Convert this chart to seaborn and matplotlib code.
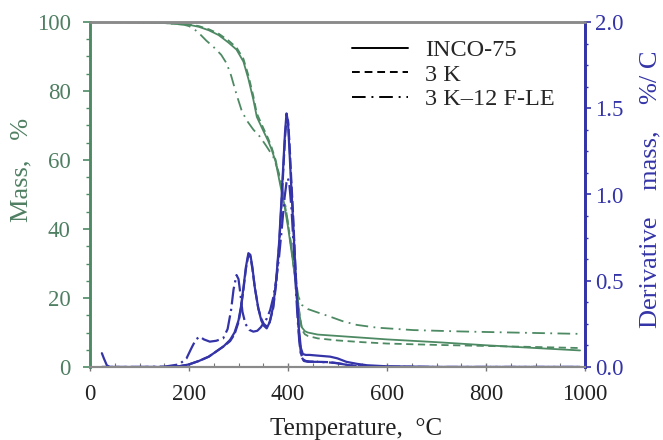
import matplotlib
matplotlib.use("Agg")
import matplotlib.pyplot as plt
from matplotlib.lines import Line2D
from matplotlib.ticker import MultipleLocator
import seaborn as sns
import pandas as pd

# ---------------- data ----------------
series_names = ["INCO-75", "3 K", "3 K\u201312 F-LE"]

# Mass (TG) curves
t_mass_inco = [25, 100, 150, 200, 220, 240, 260, 280, 296, 310, 320, 330, 337, 350, 360, 367, 375, 384,
               392, 400, 410, 418, 424, 428, 434, 440, 460, 500, 550, 600, 700, 800, 900, 990]
m_mass_inco = [100, 99.9, 99.7, 99.2, 98.6, 97.6, 96.2, 94.0, 92.0, 88.5, 83.5, 77.5, 72.5, 68.5, 65.5, 63.0,
               59.5, 53.0, 47.5, 40.6, 30.5, 21.4, 14.5, 11.5, 10.4, 10.0, 9.4, 9.0, 8.5, 8.0, 7.2, 6.3, 5.5, 4.8]

t_mass_3k = [25, 100, 150, 200, 220, 240, 260, 280, 296, 310, 320, 330, 337, 350, 360, 367, 375, 384,
             392, 400, 410, 418, 424, 428, 434, 440, 460, 500, 550, 600, 700, 800, 900, 990]
m_mass_3k = [100, 99.9, 99.7, 99.3, 98.8, 97.9, 96.6, 94.6, 92.6, 89.3, 84.5, 78.5, 73.5, 69.3, 66.2, 63.6,
             60.0, 54.0, 48.5, 41.5, 31.5, 22.0, 14.5, 10.8, 9.5, 9.0, 8.3, 7.7, 7.2, 6.8, 6.4, 6.1, 5.8, 5.5]

t_mass_fle = [25, 100, 150, 190, 200, 210, 222, 235, 250, 265, 276, 285, 296, 306, 316, 330, 343, 355,
              370, 380, 387, 395, 404, 412, 421, 428, 440, 460, 485, 510, 539, 580, 653, 750, 850, 990]
m_mass_fle = [100, 99.9, 99.7, 99.2, 98.8, 98.0, 96.5, 94.6, 92.7, 90.5, 88.0, 84.5, 79.0, 74.5, 71.6, 68.8,
              66.8, 64.3, 61.0, 57.0, 53.0, 46.5, 37.8, 28.5, 20.4, 18.0, 16.8, 15.8, 14.6, 13.3, 12.2, 11.4,
              10.7, 10.3, 10.0, 9.6]

# Derivative (DTG) curves
t_dtg_inco = [24, 28, 34, 40, 100, 150, 180, 200, 220, 240, 260, 270, 283, 292, 300, 305, 310, 315, 320,
              324, 328, 333, 340, 346, 351, 357, 363, 370, 376, 382, 387, 391, 394, 397, 400, 403, 406,
              410, 414, 418, 422, 426, 430, 436, 444, 460, 485, 500, 518, 540, 560, 600, 700, 800, 900, 990]
d_dtg_inco = [0.08, 0.05, 0.01, 0.0, 0.0, 0.0, 0.004, 0.015, 0.035, 0.06, 0.1, 0.12, 0.157, 0.2, 0.27, 0.35,
              0.46, 0.58, 0.66, 0.65, 0.58, 0.46, 0.34, 0.27, 0.24, 0.224, 0.26, 0.35, 0.5, 0.72, 0.98, 1.2,
              1.36, 1.47, 1.42, 1.25, 1.08, 0.86, 0.62, 0.4, 0.22, 0.11, 0.075, 0.07, 0.07, 0.066, 0.06, 0.05,
              0.03, 0.018, 0.01, 0.004, 0.0, 0.0, 0.0, 0.0]

t_dtg_3k = [24, 40, 100, 150, 180, 200, 220, 240, 260, 270, 283, 292, 300, 305, 310, 315, 320, 324, 328,
            333, 340, 346, 351, 357, 363, 370, 376, 382, 387, 391, 394, 397, 400, 403, 406, 410, 414, 418,
            422, 426, 430, 436, 444, 460, 485, 500, 520, 540, 600, 700, 800, 900, 990]
d_dtg_3k = [0.0, 0.0, 0.0, 0.0, 0.004, 0.015, 0.035, 0.06, 0.1, 0.12, 0.15, 0.19, 0.26, 0.34, 0.45, 0.57,
            0.65, 0.64, 0.57, 0.46, 0.34, 0.28, 0.25, 0.235, 0.26, 0.34, 0.48, 0.7, 0.95, 1.17, 1.33, 1.44,
            1.43, 1.3, 1.12, 0.9, 0.64, 0.4, 0.2, 0.08, 0.045, 0.035, 0.032, 0.03, 0.028, 0.022, 0.012,
            0.006, 0.002, 0.0, 0.0, 0.0, 0.0]

t_dtg_fle = [24, 40, 100, 150, 180, 195, 205, 214, 222, 230, 242, 255, 269, 278, 285, 290, 296, 300, 304,
             308, 314, 322, 330, 338, 345, 352, 357, 364, 370, 376, 382, 388, 393, 397, 400, 403, 407, 411,
             415, 419, 423, 427, 432, 440, 460, 480, 500, 520, 540, 600, 700, 800, 900, 990]
d_dtg_fle = [0.0, 0.0, 0.0, 0.002, 0.015, 0.05, 0.11, 0.16, 0.176, 0.16, 0.147, 0.152, 0.166, 0.22, 0.33,
             0.45, 0.533, 0.51, 0.42, 0.32, 0.25, 0.215, 0.205, 0.21, 0.23, 0.26, 0.28, 0.33, 0.4, 0.5, 0.64,
             0.82, 0.98, 1.07, 1.094, 1.05, 0.92, 0.72, 0.5, 0.3, 0.14, 0.06, 0.035, 0.03, 0.03, 0.027,
             0.022, 0.012, 0.005, 0.0, 0.0, 0.0, 0.0, 0.0]

# ---------------- style ----------------
sns.set_theme(style="white")
plt.rcParams["font.family"] = ["Liberation Serif", "DejaVu Serif"]

GREEN = "#4d8a63"
GREEN_TXT = "#4f7f62"
BLUE = "#3434a8"
styles = ["-", (0, (4, 2.5)), (0, (7, 3, 1, 3))]
blue_styles = ["-", (0, (5, 1.5)), (0, (8, 2, 1, 2))]

fig = plt.figure(figsize=(6.63, 4.40), dpi=100)
ax = fig.add_axes([90 / 663, 1 - 367 / 440, (585 - 90) / 663, (367 - 22) / 440])
ax2 = ax.twinx()

mass_sets = [(t_mass_inco, m_mass_inco), (t_mass_3k, m_mass_3k), (t_mass_fle, m_mass_fle)]
dtg_sets = [(t_dtg_inco, d_dtg_inco), (t_dtg_3k, d_dtg_3k), (t_dtg_fle, d_dtg_fle)]

for name, (t, m), ls in zip(series_names, mass_sets, styles):
    df = pd.DataFrame({"T": t, "v": m})
    sns.lineplot(data=df, x="T", y="v", ax=ax, color=GREEN, lw=1.3, linestyle=ls, sort=False)

for name, (t, d), ls in zip(series_names, dtg_sets, blue_styles):
    df = pd.DataFrame({"T": t, "v": d})
    sns.lineplot(data=df, x="T", y="v", ax=ax2, color=BLUE, lw=1.6, linestyle=ls, sort=False)

ax.set_xlim(0, 1000)
ax.set_ylim(0, 100)
ax2.set_ylim(0, 2.0)

FS = 16.5
ax.set_xlabel("Temperature,  \u00b0C", fontsize=18, color="#222222")
ax.set_ylabel("Mass,   %", fontsize=19, color=GREEN_TXT)
ax2.set_ylabel("Derivative    mass,    %/ C", fontsize=19, color=BLUE)
ax.xaxis.set_label_coords(0.537, -0.148)
ax.yaxis.set_label_coords(-0.117, 0.57)
ax2.yaxis.set_label_coords(1.11, 0.515)

ax.xaxis.set_major_locator(MultipleLocator(200))
ax.xaxis.set_minor_locator(MultipleLocator(50))
ax.yaxis.set_major_locator(MultipleLocator(20))
ax.yaxis.set_minor_locator(MultipleLocator(5))
ax2.yaxis.set_major_locator(MultipleLocator(0.5))
ax2.yaxis.set_minor_locator(MultipleLocator(0.125))
ax2.yaxis.set_major_formatter(matplotlib.ticker.FormatStrFormatter("%.1f"))

ax.tick_params(axis="x", which="major", direction="inout", length=6, width=1, color="#777777",
               labelsize=FS, labelcolor="#222222", pad=9, bottom=True)
ax.tick_params(axis="x", which="minor", direction="in", length=3, width=0.8, color="#777777", bottom=True)
ax.tick_params(axis="y", which="major", direction="out", length=5, width=1.2, color=GREEN,
               labelsize=FS, labelcolor=GREEN_TXT, pad=9, left=True)
ax.tick_params(axis="y", which="minor", direction="out", length=3, width=1, color=GREEN, left=True)
ax2.tick_params(axis="y", which="major", direction="out", length=4, width=1.2, color=BLUE,
                labelsize=FS, labelcolor=BLUE, pad=3, right=True)
ax2.tick_params(axis="y", which="minor", direction="out", length=2.5, width=1, color=BLUE, right=True)

for a in (ax, ax2):
    a.spines["top"].set_color("#8a8a8a")
    a.spines["top"].set_linewidth(1.8)
    a.spines["bottom"].set_color("#8a8a8a")
    a.spines["bottom"].set_linewidth(1.5)
    a.spines["left"].set_color(GREEN)
    a.spines["left"].set_linewidth(1.8)
    a.spines["right"].set_color(BLUE)
    a.spines["right"].set_linewidth(2.0)
ax.grid(False)
ax2.grid(False)

handles = [Line2D([], [], color="black", lw=1.4, linestyle=ls) for ls in styles]
ax2.legend(handles, series_names, loc="upper left", bbox_to_anchor=(0.53, 0.95), frameon=False,
           fontsize=17.5, handlelength=2.3, handletextpad=0.7, labelspacing=0.1, borderaxespad=0,
           borderpad=0)

fig.savefig("out.png", dpi=100)
